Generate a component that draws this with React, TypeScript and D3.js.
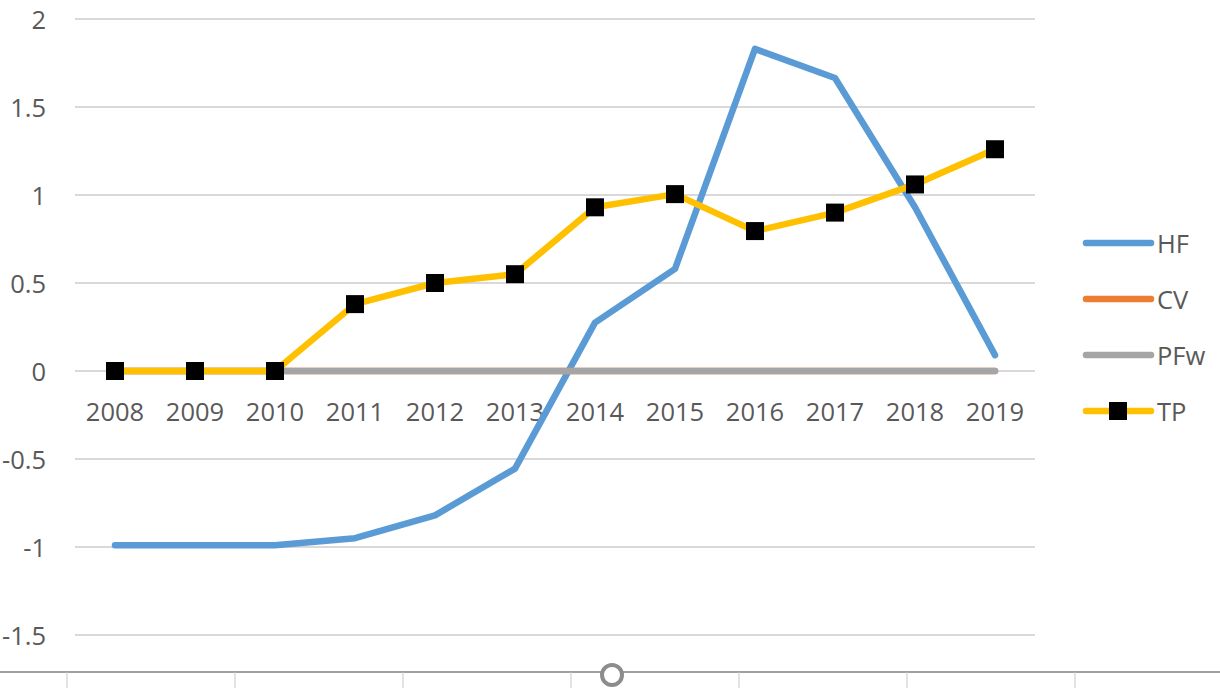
import React from "react";
import * as d3 from "d3";

const years = ["2008","2009","2010","2011","2012","2013","2014","2015","2016","2017","2018","2019"];
const hf = [-0.99,-0.99,-0.99,-0.95,-0.82,-0.555,0.275,0.58,1.83,1.665,0.93,0.09];
const cv = [0,0,0,0,0,0,0,0,0,0,0,0];
const pfw = [0,0,0,0,0,0,0,0,0,0,0,0];
const tp = [0,0,0,0.38,0.5,0.55,0.93,1.005,0.795,0.9,1.06,1.26];
const yTicks = [-1.5,-1,-0.5,0,0.5,1,1.5,2];
const seriesNames = ["HF","CV","PFw","TP"];
const colors = ["#5B9BD5","#ED7D31","#A5A5A5","#FFC000"];

const W = 1220, H = 688;
const FONT = "'Open Sans', Lato, sans-serif";
const FS = 25.5;

export default function App() {
  const x = d3.scaleBand<string>().domain(years).range([75, 1035]);
  const cx = (i: number) => (x(years[i]) as number) + x.bandwidth() / 2;
  const y = d3.scaleLinear().domain([-1.5, 2]).range([635, 19]);
  const line = d3.line<number>().x((_, i) => cx(i)).y(d => y(d));
  const series = [hf, cv, pfw, tp];
  const fmt = (v: number) => String(v);
  const bottomTicks = [67,235,403,571,739,907,1075];
  return (
    <svg width={W} height={H} style={{position:"absolute",left:0,top:0,background:"#fff"}}>
      <rect x={0} y={0} width={W} height={H} fill="#fff" />
      {yTicks.map(t => (
        <g key={t}>
          <line x1={75} x2={1035} y1={y(t)} y2={y(t)} stroke="#d9d9d9" strokeWidth={2} />
          <text x={46} y={y(t)} textAnchor="end" dominantBaseline="central" fontFamily={FONT} fontSize={FS} fill="#595959">{fmt(t)}</text>
        </g>
      ))}
      {years.map((yr, i) => (
        <text key={yr} x={cx(i)} y={411} textAnchor="middle" dominantBaseline="central" fontFamily={FONT} fontSize={FS} fill="#595959">{yr}</text>
      ))}
      {series.map((s, k) => (
        <path key={k} d={line(s) as string} fill="none" stroke={colors[k]} strokeWidth={6.5} strokeLinejoin="round" strokeLinecap="round" />
      ))}
      {tp.map((v, i) => (
        <rect key={i} x={cx(i) - 9} y={y(v) - 9} width={18} height={18} fill="#000" />
      ))}
      {seriesNames.map((n, k) => {
        const ly = 243 + k * 56;
        return (
          <g key={n}>
            <line x1={1086} x2={1151} y1={ly} y2={ly} stroke={colors[k]} strokeWidth={6.5} strokeLinecap="round" />
            {k === 3 && <rect x={1109} y={ly - 9} width={18} height={18} fill="#000" />}
            <text x={1157} y={ly} dominantBaseline="central" fontFamily={FONT} fontSize={FS} fill="#595959">{n}</text>
          </g>
        );
      })}
      <line x1={0} x2={W} y1={672} y2={672} stroke="#a0a0a0" strokeWidth={2} />
      {bottomTicks.map(t => (
        <line key={t} x1={t} x2={t} y1={672} y2={688} stroke="#c8c8c8" strokeWidth={1} />
      ))}
      <circle cx={612} cy={675} r={10} fill="#fff" stroke="#8c8c8c" strokeWidth={4} />
    </svg>
  );
}
